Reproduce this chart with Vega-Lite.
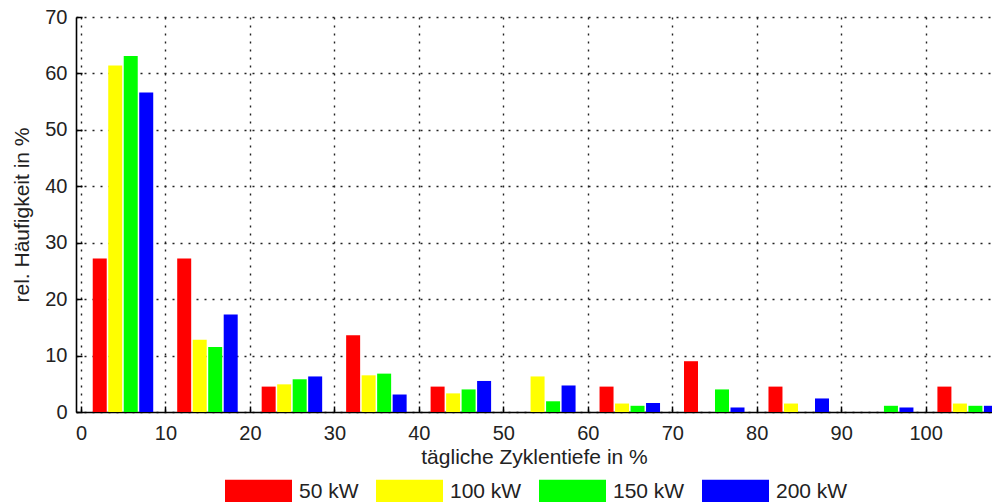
{
  "$schema": "https://vega.github.io/schema/vega-lite/v6.json",
  "width": 916,
  "height": 395,
  "autosize": {"type": "none"},
  "padding": {"left": 76, "top": 17, "right": 0, "bottom": 90},
  "background": "white",
  "config": {
    "view": {"stroke": null},
    "font": "Liberation Sans",
    "axis": {
      "domainColor": "black",
      "domainWidth": 1.6,
      "tickColor": "black",
      "tickWidth": 1.5,
      "tickSize": -6,
      "labelColor": "#222",
      "titleColor": "#222",
      "labelFontSize": 20,
      "titleFontSize": 21,
      "titleFontWeight": "normal",
      "gridColor": "#222",
      "gridDash": [2, 6],
      "gridWidth": 1.4,
      "gridOpacity": 1
    }
  },
  "data": {
    "values": [
      {"Tiefe": 5, "Leistung": "50 kW", "Haeufigkeit": 27.2},
      {"Tiefe": 5, "Leistung": "100 kW", "Haeufigkeit": 61.4},
      {"Tiefe": 5, "Leistung": "150 kW", "Haeufigkeit": 63.1},
      {"Tiefe": 5, "Leistung": "200 kW", "Haeufigkeit": 56.6},
      {"Tiefe": 15, "Leistung": "50 kW", "Haeufigkeit": 27.2},
      {"Tiefe": 15, "Leistung": "100 kW", "Haeufigkeit": 12.8},
      {"Tiefe": 15, "Leistung": "150 kW", "Haeufigkeit": 11.5},
      {"Tiefe": 15, "Leistung": "200 kW", "Haeufigkeit": 17.3},
      {"Tiefe": 25, "Leistung": "50 kW", "Haeufigkeit": 4.5},
      {"Tiefe": 25, "Leistung": "100 kW", "Haeufigkeit": 4.9},
      {"Tiefe": 25, "Leistung": "150 kW", "Haeufigkeit": 5.8},
      {"Tiefe": 25, "Leistung": "200 kW", "Haeufigkeit": 6.3},
      {"Tiefe": 35, "Leistung": "50 kW", "Haeufigkeit": 13.6},
      {"Tiefe": 35, "Leistung": "100 kW", "Haeufigkeit": 6.5},
      {"Tiefe": 35, "Leistung": "150 kW", "Haeufigkeit": 6.8},
      {"Tiefe": 35, "Leistung": "200 kW", "Haeufigkeit": 3.1},
      {"Tiefe": 45, "Leistung": "50 kW", "Haeufigkeit": 4.5},
      {"Tiefe": 45, "Leistung": "100 kW", "Haeufigkeit": 3.3},
      {"Tiefe": 45, "Leistung": "150 kW", "Haeufigkeit": 4.0},
      {"Tiefe": 45, "Leistung": "200 kW", "Haeufigkeit": 5.5},
      {"Tiefe": 55, "Leistung": "50 kW", "Haeufigkeit": 0},
      {"Tiefe": 55, "Leistung": "100 kW", "Haeufigkeit": 6.3},
      {"Tiefe": 55, "Leistung": "150 kW", "Haeufigkeit": 1.9},
      {"Tiefe": 55, "Leistung": "200 kW", "Haeufigkeit": 4.7},
      {"Tiefe": 65, "Leistung": "50 kW", "Haeufigkeit": 4.5},
      {"Tiefe": 65, "Leistung": "100 kW", "Haeufigkeit": 1.5},
      {"Tiefe": 65, "Leistung": "150 kW", "Haeufigkeit": 1.1},
      {"Tiefe": 65, "Leistung": "200 kW", "Haeufigkeit": 1.6},
      {"Tiefe": 75, "Leistung": "50 kW", "Haeufigkeit": 9.0},
      {"Tiefe": 75, "Leistung": "100 kW", "Haeufigkeit": 0},
      {"Tiefe": 75, "Leistung": "150 kW", "Haeufigkeit": 4.0},
      {"Tiefe": 75, "Leistung": "200 kW", "Haeufigkeit": 0.8},
      {"Tiefe": 85, "Leistung": "50 kW", "Haeufigkeit": 4.5},
      {"Tiefe": 85, "Leistung": "100 kW", "Haeufigkeit": 1.5},
      {"Tiefe": 85, "Leistung": "150 kW", "Haeufigkeit": 0},
      {"Tiefe": 85, "Leistung": "200 kW", "Haeufigkeit": 2.4},
      {"Tiefe": 95, "Leistung": "50 kW", "Haeufigkeit": 0},
      {"Tiefe": 95, "Leistung": "100 kW", "Haeufigkeit": 0},
      {"Tiefe": 95, "Leistung": "150 kW", "Haeufigkeit": 1.1},
      {"Tiefe": 95, "Leistung": "200 kW", "Haeufigkeit": 0.8},
      {"Tiefe": 105, "Leistung": "50 kW", "Haeufigkeit": 4.5},
      {"Tiefe": 105, "Leistung": "100 kW", "Haeufigkeit": 1.5},
      {"Tiefe": 105, "Leistung": "150 kW", "Haeufigkeit": 1.1},
      {"Tiefe": 105, "Leistung": "200 kW", "Haeufigkeit": 1.1}
    ]
  },
  "encoding": {
    "x": {
      "field": "Tiefe",
      "type": "quantitative",
      "scale": {"domain": [0, 107.26], "nice": false, "zero": false},
      "axis": {
        "values": [0, 10, 20, 30, 40, 50, 60, 70, 80, 90, 100],
        "labelPadding": 17,
        "labelFlush": false,
        "title": "tägliche Zyklentiefe in %",
        "titlePadding": 3
      }
    },
    "y": {
      "field": "Haeufigkeit",
      "type": "quantitative",
      "stack": null,
      "scale": {"domain": [0, 70], "nice": false},
      "axis": {
        "values": [0, 10, 20, 30, 40, 50, 60, 70],
        "labelPadding": 15,
        "title": "rel. Häufigkeit in %",
        "titlePadding": 12
      }
    },
    "color": {
      "field": "Leistung",
      "type": "nominal",
      "sort": ["50 kW", "100 kW", "150 kW", "200 kW"],
      "scale": {
        "domain": ["50 kW", "100 kW", "150 kW", "200 kW"],
        "range": ["#ff0000", "#ffff00", "#00ff00", "#0000ff"]
      },
      "legend": {
        "orient": "none",
        "legendX": 149,
        "legendY": 441,
        "direction": "horizontal",
        "title": null,
        "symbolType": "M-1,-0.36H1V0.36H-1Z",
        "symbolSize": 4489,
        "symbolStrokeWidth": 0,
        "symbolOpacity": 1,
        "labelFontSize": 21,
        "labelColor": "#222",
        "labelOffset": 7,
        "columnPadding": 17,
        "labelLimit": 200
      }
    }
  },
  "layer": [
    {
      "transform": [{"filter": "datum.Leistung === '50 kW'"}],
      "mark": {"type": "bar", "clip": true, "width": 14, "xOffset": -23.5}
    },
    {
      "transform": [{"filter": "datum.Leistung === '100 kW'"}],
      "mark": {"type": "bar", "clip": true, "width": 14, "xOffset": -8}
    },
    {
      "transform": [{"filter": "datum.Leistung === '150 kW'"}],
      "mark": {"type": "bar", "clip": true, "width": 14, "xOffset": 7.5}
    },
    {
      "transform": [{"filter": "datum.Leistung === '200 kW'"}],
      "mark": {"type": "bar", "clip": true, "width": 14, "xOffset": 23}
    }
  ]
}
